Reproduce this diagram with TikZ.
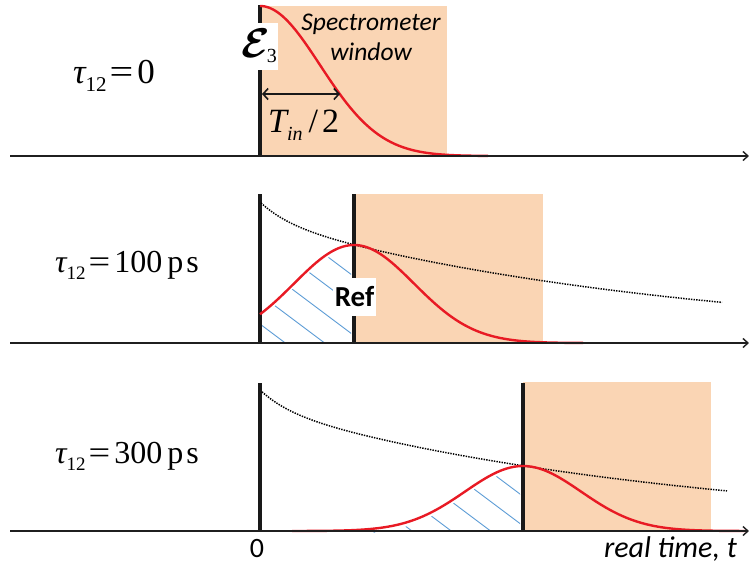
\documentclass[tikz,border=0pt]{standalone}
\usepackage{bm}
\usepackage{fontspec}
\setmainfont{Carlito}
\newfontfamily\timesfont{Liberation Serif}
\usepackage{tikz}
\usetikzlibrary{arrows.meta}

\definecolor{winfill}{RGB}{250,213,180}
\definecolor{pulsered}{RGB}{232,26,36}
\definecolor{hatchblue}{RGB}{91,155,213}

\newcommand{\tauequals}{\kern3pt\scalebox{1.2}[1]{=}\kern4pt}

\begin{document}
\begin{tikzpicture}[
    x=1pt, y=-1pt,
    axis/.style={draw=black!88, line width=2.6pt, -{Straight Barb[length=5pt, width=9pt, line width=1.4pt]}},
    bar/.style={draw=black!90, line width=3.4pt},
    pulse/.style={draw=pulsered, line width=2.4pt},
    decay/.style={draw=black, line width=1.5pt, dash pattern=on 1.4pt off 1.2pt},
    hatchline/.style={draw=hatchblue, line width=0.9pt},
    span/.style={draw=black!90, line width=2pt, {Straight Barb[length=5pt, width=11pt, line width=1.6pt]}-{Straight Barb[length=5pt, width=11pt, line width=1.6pt]}},
    delay/.style={font=\timesfont\fontsize{32}{32}\selectfont, anchor=base west, inner sep=0pt},
    tag/.style={fill=white, inner sep=0pt, font=\bfseries\fontsize{29}{29}\selectfont, minimum width=43pt, minimum height=38pt}
]
\useasboundingbox (0,0) rectangle (749,566);

% ---------- tau12 = 0 ----------
\fill[winfill] (260,6) rectangle (447,156);
\draw[bar] (260,5) -- (260,156);
\draw[pulse] plot[domain=260:488, samples=90, smooth] (\x, {156-150*exp(-((\x-260)/60)^2/2)});
\fill[white] (240,23) rectangle (278,70);
\node[inner sep=0pt, anchor=base west, font=\fontsize{20}{20}\selectfont] (field) at (241,57)
    {\scalebox{2}{$\bm{\mathcal{E}}$}\kern-3pt\raisebox{-5pt}{\timesfont\fontsize{20}{20}\selectfont 3}};
\node[inner sep=0pt, align=center, font=\itshape\fontsize{25.5}{30}\selectfont] (spec) at (371,37.5) {Spectrometer\\window};
\coordinate (hw0) at (262,94);
\coordinate (hw1) at (340,94);
\draw[span] (hw0) -- (hw1);
\node[font=\timesfont\fontsize{34}{34}\selectfont, anchor=base west, inner sep=0pt] (halfw) at (268,132)
    {\itshape T\raisebox{-8pt}{\fontsize{20}{20}\selectfont in}\upshape\kern6pt/\kern4pt2};
\node[delay, font=\timesfont\fontsize{35}{35}\selectfont] (d0) at (73,83)
    {\itshape τ\upshape\raisebox{-8pt}{\fontsize{21}{21}\selectfont 12}\tauequals 0};
\coordinate (ax0a) at (10,156);
\coordinate (ax0b) at (749,156);
\draw[axis] (ax0a) -- (ax0b);

% ---------- tau12 = 100 ps ----------
\fill[winfill] (354,194) rectangle (543,343);
\begin{scope}
  \clip (262,343) -- plot[domain=262:351, samples=40, smooth] (\x, {347-98*exp(-((\x-354)/60)^2/2)}) -- (351,343) -- cycle;
  \foreach \c in {-18,11,40.5,70,99.5,129,158.5}
    \draw[hatchline] (250,{0.75*250+\c}) -- (360,{0.75*360+\c});
\end{scope}
\draw[bar] (260,194) -- (260,343);
\draw[bar] (354,194) -- (354,343);
\draw[decay] plot[domain=261:722, samples=120, smooth] (\x, {343-122*exp(-(\x-260)/420)-19*exp(-(\x-260)/29)});
\draw[pulse] plot[domain=260:583, samples=110, smooth] (\x, {343-98*exp(-((\x-354)/60)^2/2)});
\node[tag] (ref) at (354.5,297) {Ref};
\node[delay] (d1) at (55,272)
    {\itshape τ\upshape\raisebox{-7pt}{\fontsize{19}{19}\selectfont 12}\tauequals 100\kern5pt p\kern3pt s};
\coordinate (ax1a) at (10,343);
\coordinate (ax1b) at (749,343);
\draw[axis] (ax1a) -- (ax1b);

% ---------- tau12 = 300 ps ----------
\fill[winfill] (523,382) rectangle (711,531);
\begin{scope}
  \clip (300,531) -- plot[domain=300:520, samples=70, smooth] (\x, {535-65*exp(-((\x-523)/58)^2/2)}) -- (520,531) -- cycle;
  \foreach \c in {74.5,104,133.5,163,192.5,222,251.5}
    \draw[hatchline] (360,{0.75*360+\c}) -- (530,{0.75*530+\c});
\end{scope}
\draw[bar] (260,383) -- (260,531);
\draw[bar] (523,383) -- (523,531);
\draw[decay] plot[domain=262:727, samples=120, smooth] (\x, {531-122*exp(-(\x-260)/420)-19*exp(-(\x-260)/29)});
\draw[pulse] plot[domain=292:747, samples=130, smooth] (\x, {531-65*exp(-((\x-523)/58)^2/2)});
\node[delay] (d2) at (55,463)
    {\itshape τ\upshape\raisebox{-7pt}{\fontsize{19}{19}\selectfont 12}\tauequals 300\kern5pt p\kern3pt s};
\coordinate (ax2a) at (10,531);
\coordinate (ax2b) at (749,531);
\draw[axis] (ax2a) -- (ax2b);
\node[anchor=base, inner sep=0pt, font=\fontsize{28}{28}\selectfont] (zero) at (257,557) {0};
\node[anchor=base east, inner sep=0pt, font=\itshape\fontsize{30}{30}\selectfont] (rt) at (737,557) {real time, t};

\end{tikzpicture}
\end{document}
